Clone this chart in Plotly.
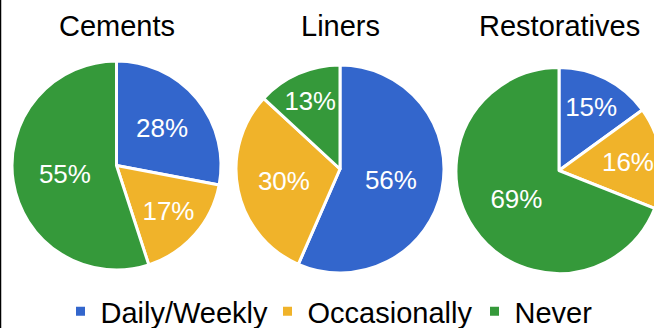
import plotly.graph_objects as go

categories = ["Daily/Weekly", "Occasionally", "Never"]
chart_titles = ["Cements", "Liners", "Restoratives"]
cements = [28, 17, 55]
liners = [56, 30, 13]
restoratives = [15, 16, 69]
colors = ["#3366CC", "#F0B32A", "#35993A"]

W, H = 700, 337
FONT = "Arial, Liberation Sans, sans-serif"

# pie geometry in pixels (center x, center y, radius)
geoms = [(116.5, 165.5, 104.5), (340, 169, 104), (559, 170.5, 103)]

fig = go.Figure()
for name, vals, (cx, cy, r) in zip(chart_titles, [cements, liners, restoratives], geoms):
    fig.add_trace(go.Pie(
        labels=categories, values=vals, name=name,
        sort=False, direction="clockwise", rotation=0,
        marker=dict(colors=colors, line=dict(color="white", width=3)),
        texttemplate="%{value}%", textposition="inside",
        insidetextorientation="horizontal",
        textfont=dict(color="white", size=26, family=FONT),
        domain=dict(x=[(cx - r) / W, (cx + r) / W], y=[(H - cy - r) / H, (H - cy + r) / H]),
        hoverinfo="label+value",
    ))
    fig.add_annotation(text=name, x=cx / W, y=(H - 26) / H, xref="paper", yref="paper",
                       xanchor="center", yanchor="middle", showarrow=False,
                       font=dict(size=29, color="black", family=FONT))

fig.add_shape(type="line", xref="paper", yref="paper", x0=0.5 / W, x1=0.5 / W, y0=0, y1=1,
              line=dict(color="black", width=1.5))

fig.update_layout(
    width=W, height=H, margin=dict(l=0, r=0, t=0, b=0),
    paper_bgcolor="white", plot_bgcolor="white",
    showlegend=True,
    legend=dict(orientation="h", x=371 / W, xanchor="center", y=0, yanchor="bottom",
                entrywidth=162, entrywidthmode="pixels",
                font=dict(size=29, color="black", family=FONT), traceorder="normal",
                bgcolor="rgba(0,0,0,0)"),
)

fig.write_html("out.html", post_script="document.body.style.overflow='hidden';document.documentElement.style.overflow='hidden';")
